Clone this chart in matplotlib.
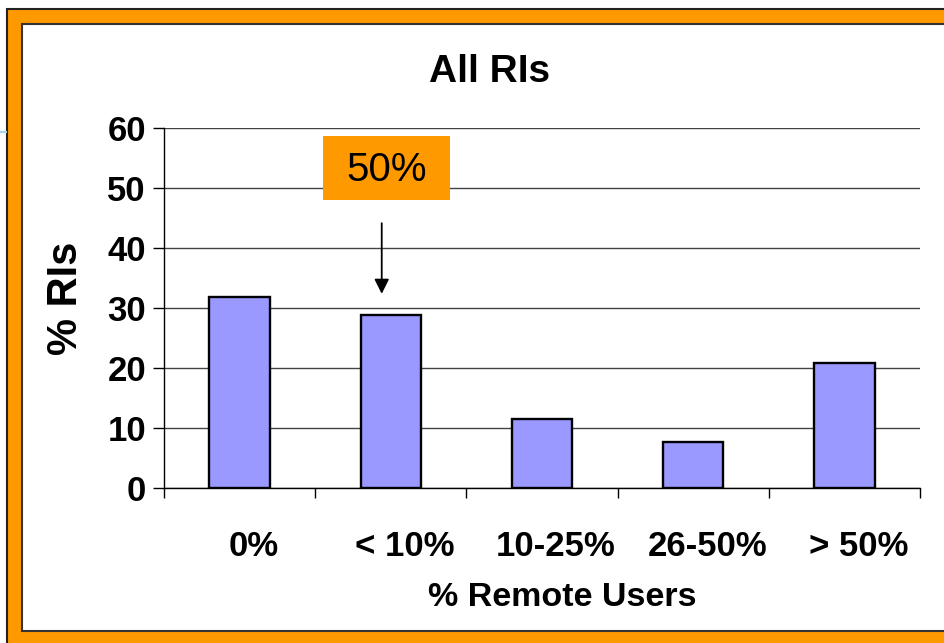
# All RIs - share of RIs by % remote users
import numpy as np
import matplotlib.pyplot as plt
import matplotlib.transforms as mtransforms
from matplotlib.patches import Rectangle

plt.rcParams['font.family'] = ['Liberation Sans', 'DejaVu Sans']

categories = ["0%", "< 10%", "10-25%", "26-50%", "> 50%"]
values = [31.9, 28.8, 11.5, 7.6, 20.8]
y_ticks = [0, 10, 20, 30, 40, 50, 60]

W, H = 944, 643
fig = plt.figure(figsize=(W / 100, H / 100), dpi=100)
fig.patch.set_facecolor("white")


def px(x0, y0, x1, y1):
    # pixel box (top-left origin) -> figure fraction rect
    return (x0 / W, 1 - y1 / H, (x1 - x0) / W, (y1 - y0) / H)


# orange slide frame
x, y, w, h = px(6.5, 8.5, 960, 660)
fig.patches.append(Rectangle((x, y), w, h, transform=fig.transFigure,
                             facecolor="#FF9900", edgecolor="#222222", lw=1.5, zorder=-2))
x, y, w, h = px(21.5, 23.5, 960, 630.5)
fig.patches.append(Rectangle((x, y), w, h, transform=fig.transFigure,
                             facecolor="white", edgecolor="#333333", lw=1.5, zorder=-1))
# faint slide guide line peeking out on the left
fig.add_artist(plt.Line2D([0, 6 / W], [1 - 132 / H] * 2, transform=fig.transFigure,
                          color="#A8D4F0", lw=1.5))

ax = fig.add_axes([164 / W, 1 - 488 / H, (920 - 164) / W, (488 - 128) / H])
ax.set_zorder(2)
ax.set_facecolor("none")

pos = np.arange(len(categories))
ax.bar(pos, values, width=0.4, color="#9999FF", edgecolor="black", linewidth=1.7, zorder=3)

ax.set_xlim(-0.5, len(categories) - 0.5)
ax.set_ylim(0, 60)
ax.set_yticks(y_ticks)
ax.set_yticklabels([str(t) for t in y_ticks], fontsize=25, fontweight="bold")
ax.set_xticks(pos)
ax.set_xticklabels(categories, fontsize=25, fontweight="bold")
ax.set_xticks(np.arange(len(categories) + 1) - 0.5, minor=True)
ax.tick_params(axis="x", which="major", length=0, pad=30)
ax.tick_params(axis="x", which="minor", length=7, width=1, direction="out")
ax.tick_params(axis="y", length=8, width=1, pad=5)

# category labels sit a bit right of the bar centres in the original
shift = mtransforms.ScaledTranslation(14 / 100, 0, fig.dpi_scale_trans)
for lab in ax.get_xticklabels():
    lab.set_transform(lab.get_transform() + shift)

ax.grid(axis="y", color="#444444", linewidth=1, zorder=0)
for s in ["top", "right"]:
    ax.spines[s].set_visible(False)
ax.spines["left"].set_linewidth(1)
ax.spines["bottom"].set_linewidth(1)

fig.text(490 / W, 1 - 72 / H, "All RIs", fontsize=28, fontweight="bold",
         ha="center", va="center")
fig.text(66 / W, 1 - 298 / H, "% RIs", fontsize=30, fontweight="bold",
         ha="center", va="center", rotation=90)
fig.text(562 / W, 1 - 597 / H, "% Remote Users", fontsize=24.5, fontweight="bold",
         ha="center", va="center")

# callout box and arrow over the "< 10%" bar
ax.add_patch(Rectangle((0.552, 48.0), 0.84, 10.7, facecolor="#FF9900",
                       edgecolor="none", zorder=4, clip_on=False))
ax.text(0.972, 53.0, "50%", fontsize=29, ha="center", va="center", zorder=5)
ax.annotate("", xy=(0.94, 31.9), xytext=(0.94, 44.6),
            arrowprops=dict(arrowstyle="-|>", color="black", lw=1.3,
                            mutation_scale=22), zorder=5)

fig.savefig("out.png", dpi=100)
